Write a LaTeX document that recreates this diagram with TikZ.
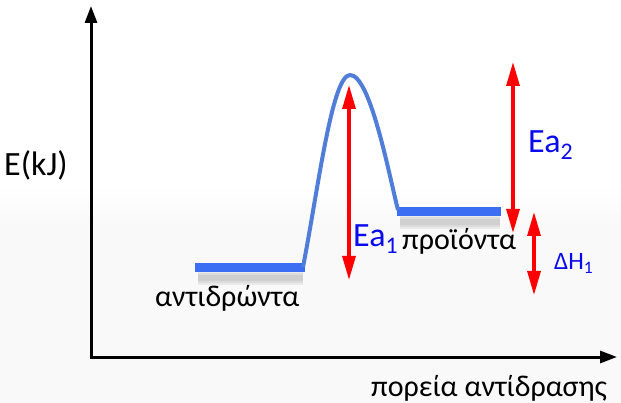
\documentclass[tikz,border=0pt]{standalone}
\usepackage{fontspec}
\setmainfont{Carlito}
\usetikzlibrary{arrows.meta}
\definecolor{barblue}{RGB}{59,110,242}
\definecolor{curveblue}{RGB}{80,125,215}
\definecolor{lblblue}{RGB}{10,10,240}
\definecolor{arrred}{RGB}{255,0,0}
\begin{document}
\begin{tikzpicture}[x=1pt,y=-1pt,
  axis/.style={line width=3pt,-{Triangle[length=17pt,width=12pt]}},
  level/.style={line width=9pt,barblue},
  shadowline/.style={line width=#1,black,opacity=0.06},
  redarr/.style={line width=3.2pt,arrred,{Triangle[length=24pt,width=13pt]}-{Triangle[length=24pt,width=13pt]}},
  lbl/.style={inner sep=0pt,anchor=base west},
]
\useasboundingbox (0,0) rectangle (621,403);
\fill[white] (0,0) rectangle (621,403);
\shade[top color=white,bottom color=gray!5] (0,185) rectangle (621,230);
\fill[gray!5] (0,230) rectangle (621,403);
% shadows
\foreach \w in {6,10,14}{
  \draw[shadowline=\w pt] (198,278) -- (303,278);
  \draw[shadowline=\w pt] (400,222) -- (500,222);
}
% axes
\coordinate (O) at (91,357);
\coordinate (ytop) at (91,6);
\coordinate (xend) at (617,357);
\draw[axis] (91,358.5) -- (ytop);
\draw[axis] (89.5,357) -- (xend);
% levels
\coordinate (r1) at (195,267.5);
\coordinate (r2) at (305,267.5);
\coordinate (p1) at (397,211.5);
\coordinate (p2) at (501,211.5);
\draw[level] (r1) -- (r2);
\draw[level] (p1) -- (p2);
% curve
\coordinate (peak) at (350,75);
\draw[curveblue,line width=4pt] (303,267)
  .. controls (318,190) and (332,75) .. (peak)
  .. controls (370,75) and (388,170) .. (398,210);
% arrows
\coordinate (ea1t) at (349,85);
\coordinate (ea1b) at (349,280);
\draw[redarr] (ea1t) -- (ea1b);
\coordinate (ea2t) at (513,62);
\coordinate (ea2b) at (513,233);
\draw[redarr] (ea2t) -- (ea2b);
\coordinate (dht) at (534,212);
\coordinate (dhb) at (534,295);
\draw[redarr] (dht) -- (dhb);
% labels
\node[lbl,font=\fontsize{34}{34}\selectfont] (ekj) at (4,176) {E(kJ)};
\node[lbl,font=\fontsize{30}{30}\selectfont] (react) at (155,307) {αντιδρώντα};
\node[lbl,font=\fontsize{30}{30}\selectfont] (prod) at (402,250) {προϊόντα};
\node[lbl,font=\fontsize{34}{34}\selectfont,text=lblblue] (ea1) at (353,247) {Ea\textsubscript{1}};
\node[lbl,font=\fontsize{34}{34}\selectfont,text=lblblue] (ea2) at (528,153) {Ea\textsubscript{2}};
\node[lbl,font=\fontsize{25}{25}\selectfont,text=lblblue] (dh) at (554,270) {ΔH\textsubscript{1}};
\node[lbl,font=\fontsize{30}{30}\selectfont] (xlab) at (371,396) {πορεία αντίδρασης};
\end{tikzpicture}
\end{document}
